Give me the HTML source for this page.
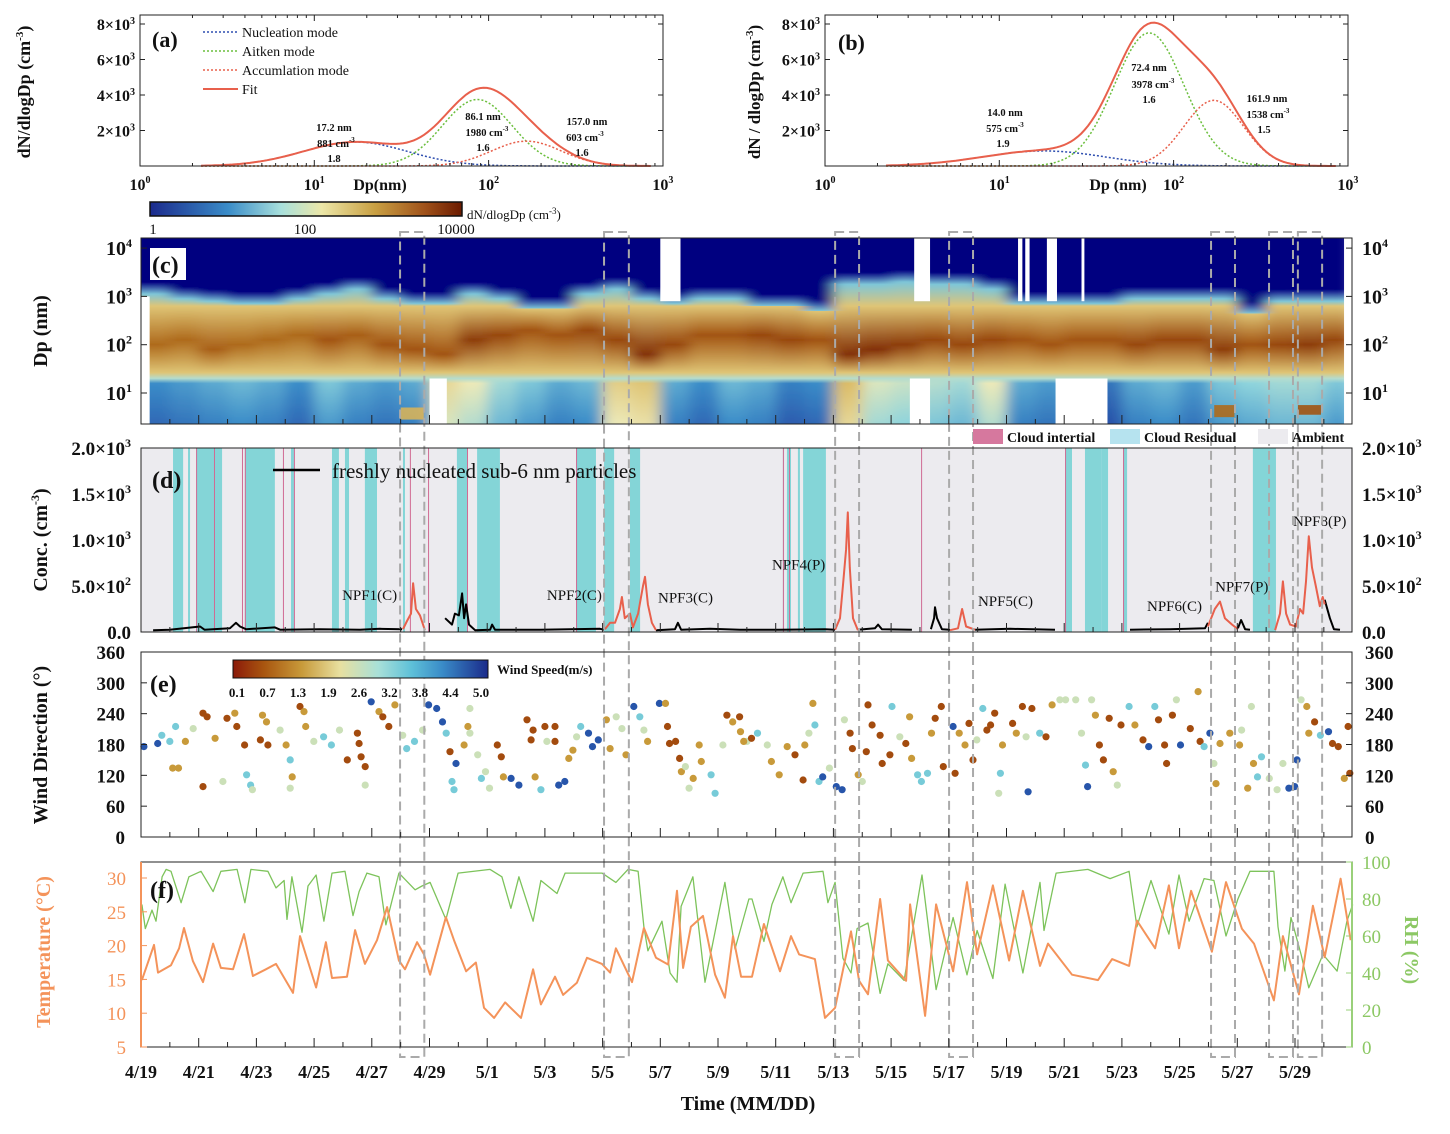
<!DOCTYPE html>
<html><head><meta charset="utf-8"><style>
body{margin:0;background:#fff}
svg text{font-family:"Liberation Serif",serif}
.b{font-weight:bold}
</style></head><body>
<svg id="s" width="1450" height="1129" viewBox="0 0 1450 1129" xmlns="http://www.w3.org/2000/svg">
<defs>
<linearGradient id="cb1" x1="0" x2="1" y1="0" y2="0">
<stop offset="0" stop-color="#1b2a8c"/><stop offset="0.25" stop-color="#3a8cc8"/><stop offset="0.42" stop-color="#a8e0dc"/><stop offset="0.55" stop-color="#ece7a8"/><stop offset="0.72" stop-color="#c9a043"/><stop offset="0.88" stop-color="#a0521a"/><stop offset="1" stop-color="#6b1a00"/>
</linearGradient>
<linearGradient id="cb2" x1="0" x2="1" y1="0" y2="0">
<stop offset="0" stop-color="#8b1a0a"/><stop offset="0.12" stop-color="#a8550f"/><stop offset="0.27" stop-color="#c89a3a"/><stop offset="0.42" stop-color="#e8e0a0"/><stop offset="0.57" stop-color="#a8e0d8"/><stop offset="0.7" stop-color="#5ec0d8"/><stop offset="0.82" stop-color="#3a8cc8"/><stop offset="1" stop-color="#1a2a8a"/>
</linearGradient>
<filter id="hblur" x="-0.02" y="0" width="1.04" height="1"><feGaussianBlur stdDeviation="7 0"/></filter>
<clipPath id="cclip"><rect x="141" y="238" width="1211" height="186"/></clipPath>
</defs>
<g clip-path="url(#cclip)"><g id="heatcols" filter="url(#hblur)"></g></g>
<g id="heat"></g>
<g id="pd"></g>
<g id="pe"></g>
<g id="pf"></g>
<g id="pab"></g>
<g id="frames"></g>
</svg>
<script>
// ---------- data ----------
const aCenters=[17.2,86.1,165];
const aPeaks=[1350,3750,1400];
const aSig=[0.3,0.2,0.2];
const bCenters=[18,72.4,170];
const bPeaks=[850,7500,3700];
const bSig=[0.35,0.2,0.17];
const cTop=[3.3,3.2,3.15,3.1,3.1,3.2,3.3,3.4,3.2,3.1,3.1,3.3,3.2,3.0,3.0,3.3,3.4,3.2,3.1,3.2,3.2,3.05,3.05,2.95,3.5,3.5,3.55,3.5,3.5,3.4,3.1,3.1,3.1,3.1,3.2,3.2,3.2,3.2,2.9,3.15,3.15,3.15];
const cCenter=[2.0,2.1,1.9,2.0,2.1,2.2,2.1,2.2,2.0,1.9,1.8,2.1,2.2,2.3,2.2,2.3,2.1,1.8,2.0,2.2,2.2,2.2,2.1,2.1,1.8,1.9,2.0,2.1,2.0,2.1,2.1,2.0,2.1,2.1,2.0,2.1,2.1,1.9,2.0,2.0,2.0,2.1];
const cPeak=[3.3,3.3,3.4,3.3,3.3,3.3,3.5,3.4,3.5,3.5,3.5,3.7,3.6,3.5,3.5,3.6,3.6,3.8,3.6,3.5,3.5,3.6,3.6,3.5,3.8,3.8,3.7,3.6,3.6,3.6,3.5,3.5,3.5,3.5,3.6,3.6,3.6,3.7,3.5,3.6,3.7,3.6];
const cLow=[1.0,1.1,1.2,1.3,1.2,1.0,1.4,1.2,1.1,1.2,2.2,2.0,1.6,1.4,1.2,1.3,2.3,2.4,1.2,1.0,1.3,1.2,0.9,1.0,2.5,1.9,1.8,1.7,1.6,2.0,1.2,1.1,1.3,0.8,1.2,1.3,1.1,1.4,1.5,1.6,1.6,1.4];
const cGaps=[[0,0.3,0.36,3.0],[10.0,10.6,0.36,1.3],[18.0,18.7,2.9,4.2],[26.8,27.35,2.9,4.2],[26.65,27.35,0.36,1.3],[30.4,30.55,2.9,4.2],[30.65,30.8,2.9,4.2],[31.4,31.75,2.9,4.2],[32.6,32.7,2.9,4.2],[31.7,33.5,0.36,1.3],[41.7,42.1,0.36,4.2]];
const cEvents=[[37.2,37.9,0.5,0.75,3.3],[40.1,40.9,0.55,0.75,3.5],[9.0,9.8,0.45,0.7,2.6]];
const boxStart=[8.98,16.05,24.06,28.01,37.09,39.1,40.1];
const boxEnd=[9.82,16.91,24.89,28.84,37.92,39.93,40.94];
const cyanStart=[1.11,1.63,1.91,3.60,5.20,6.62,7.07,7.76,9.08,10.95,11.65,15.08,16.05,16.95,22.25,22.39,22.77,22.95,32.03,32.72,33.28,34.04,38.54];
const cyanEnd=[1.46,1.70,2.81,4.64,5.30,6.86,7.21,8.18,9.15,11.33,12.44,15.77,16.40,17.30,22.29,22.53,22.84,23.74,32.27,33.28,33.52,34.18,39.34];
const pinkDays=[1.91,2.53,3.50,3.60,4.92,5.30,9.32,9.95,11.30,15.08,22.25,22.46,27.04,32.03,34.04];
const blackSegs=[
[[0.42,20],[1.0,25],[2.05,60],[2.2,25],[3.08,40],[3.29,100],[3.43,60],[3.64,30],[4.64,50],[4.82,25],[6.2,30],[7.59,25],[8.28,35],[9.05,30]],
[[10.54,150],[10.78,80],[10.88,200],[11.02,180],[11.13,420],[11.2,150],[11.27,300],[11.37,80],[11.58,20],[12.1,25],[12.17,80],[12.27,25],[13.83,25],[15.91,35],[16.05,25]],
[[17.85,20],[18.51,30],[18.61,100],[18.72,25],[19.72,35],[20.76,25],[22.15,25],[23.71,30],[24.06,25]],
[[24.85,25],[25.44,40],[25.55,80],[25.68,30],[26.72,25]],
[[27.38,30],[27.49,150],[27.52,270],[27.59,150],[27.76,30],[28.04,25]],
[[28.91,25],[30.12,35],[31.68,25]],
[[34.28,25],[35.67,30],[36.88,40],[36.98,100]],
[[38.02,40],[38.13,130],[38.27,30],[38.44,25]],
[[41.03,350],[41.21,150],[41.35,30],[41.56,25]]];
const redSegs=[
[[9.08,30],[9.22,120],[9.36,200],[9.43,530],[9.53,250],[9.67,180],[9.84,20]],
[[16.08,30],[16.26,100],[16.43,100],[16.6,250],[16.67,380],[16.77,150],[16.95,200],[17.05,50],[17.23,200],[17.4,500],[17.47,600],[17.57,300],[17.71,100],[17.85,20]],
[[24.06,25],[24.23,150],[24.33,500],[24.44,900],[24.5,1300],[24.57,700],[24.68,150],[24.85,20]],
[[28.04,20],[28.32,40],[28.46,250],[28.6,60],[28.91,25]],
[[36.98,60],[37.22,250],[37.4,330],[37.57,150],[37.82,80],[38.02,30]],
[[39.31,20],[39.48,200],[39.58,550],[39.69,200],[39.83,80],[40.03,60],[40.17,250],[40.28,200],[40.38,550],[40.48,1040],[40.59,700],[40.72,500],[40.86,280],[40.96,380],[41.03,300]]];
const npfNames=["NPF1(C)","NPF2(C)","NPF3(C)","NPF4(P)","NPF5(C)","NPF6(C)","NPF7(P)","NPF8(P)"];
const npfDay=[6.97,14.07,17.92,21.87,29.01,34.87,37.23,39.93];
const npfVal=[350,350,320,680,280,230,440,1150];
const windPts=[[0.1,176,4.5],[0.58,182,4.5],[0.72,198,3],[1.2,215,3],[1.0,186,3],[1.1,134,1.3],[1.3,134,1.3],[1.54,186,1.3],[1.81,211,2.2],[2.15,241,0.6],[2.29,234,0.6],[2.15,98,0.6],[2.57,192,1.3],[2.84,108,2.2],[2.98,231,0.6],[3.25,241,1.3],[3.32,215,0.6],[3.59,179,0.6],[3.66,121,3],[3.8,101,3],[3.86,92,2.2],[4.21,237,1.3],[4.35,224,1.3],[4.14,189,0.6],[4.4,179,0.6],[4.82,208,2.2],[5.03,179,1.3],[5.17,150,3],[5.24,117,1.3],[5.17,95,2.2],[5.51,254,0.6],[5.65,244,1.3],[5.71,215,1.3],[5.99,186,2.2],[6.33,195,3],[6.6,179,3],[6.88,208,2.2],[7.15,150,0.6],[7.5,202,0.6],[7.56,182,0.6],[7.63,156,0.6],[7.77,137,0.6],[7.77,101,2.2],[7.98,263,4.5],[8.25,244,1.3],[8.38,234,0.6],[8.59,215,0.6],[8.8,257,1.3],[9.07,198,2.2],[9.21,172,3],[9.48,186,3],[9.76,208,2.2],[9.97,257,4.5],[10.25,250,4.5],[10.45,224,4.5],[10.58,202,3],[10.71,166,0.6],[10.78,108,3],[10.85,92,3],[10.92,143,4.5],[11.2,179,1.3],[11.33,215,1.3],[11.4,250,2.2],[11.4,202,2.2],[11.67,160,2.2],[11.8,114,3],[11.94,127,2.2],[12.08,95,2.2],[12.35,179,0.6],[12.49,156,0.6],[12.56,117,1.3],[12.83,114,4.5],[13.1,101,4.5],[13.38,228,0.6],[13.59,208,0.6],[13.52,189,0.6],[13.66,117,1.3],[13.86,92,3],[14.0,215,0.6],[14.07,186,2.2],[14.35,215,0.6],[14.35,186,0.6],[14.48,101,4.5],[14.69,108,4.5],[14.83,153,1.3],[14.97,169,1.3],[15.1,195,2.2],[15.24,215,3],[15.51,202,4.5],[15.65,176,4.5],[15.85,189,4.5],[16.13,228,1.3],[16.26,172,1.3],[16.47,234,2.2],[16.67,211,2.2],[16.81,160,1.3],[17.08,254,4.5],[17.29,234,3],[17.43,208,2.2],[17.56,186,1.3],[17.97,260,4.5],[18.18,260,1.3],[18.25,215,0.6],[18.32,182,0.6],[18.53,186,0.6],[18.67,153,0.6],[18.73,127,1.3],[18.87,137,2.2],[19.0,95,2.2],[19.14,114,1.3],[19.35,179,1.3],[19.42,147,1.3],[19.76,121,3],[19.9,85,3],[20.17,179,2.2],[20.31,237,0.6],[20.51,224,1.3],[20.78,205,1.3],[21.0,186,2.2],[20.75,234,0.6],[20.89,186,1.3],[21.16,192,0.6],[21.37,202,3],[21.71,179,2.2],[21.85,147,1.3],[22.12,121,1.3],[22.4,176,1.3],[22.67,160,0.6],[22.95,111,0.6],[23.01,179,1.3],[23.15,202,2.2],[23.29,260,1.3],[23.36,218,3],[23.5,108,3],[23.63,117,4.5],[23.86,134,2.2],[24.1,98,4.5],[24.3,92,4.5],[24.38,228,2.2],[24.58,202,0.6],[24.66,172,0.6],[24.86,121,1.3],[25.0,108,2.2],[25.14,166,0.6],[25.2,257,0.6],[25.34,218,0.6],[25.62,198,0.6],[25.69,143,0.6],[26.03,254,3],[25.96,160,0.6],[26.3,195,2.2],[26.51,182,0.6],[26.64,234,1.3],[26.71,153,1.3],[26.92,121,3],[27.05,108,3],[27.26,124,3],[27.4,202,1.3],[27.53,231,0.6],[27.74,254,0.6],[27.81,137,0.6],[28.15,215,4.5],[28.22,124,0.6],[28.36,202,1.3],[28.56,179,1.3],[28.7,221,0.6],[28.84,150,0.6],[28.97,189,2.2],[29.18,250,3],[29.32,208,0.6],[29.45,218,0.6],[29.59,241,0.6],[29.73,85,2.2],[29.79,124,3],[29.86,179,1.3],[30.21,221,0.6],[30.34,202,1.3],[30.55,254,0.6],[30.68,195,2.2],[30.75,88,4.5],[30.88,250,0.6],[31.15,202,3],[31.37,195,0.6],[31.58,257,1.3],[31.85,267,2.2],[32.05,267,2.2],[32.4,267,2.2],[32.6,202,2.2],[32.74,140,3],[32.81,98,4.5],[32.95,267,2.2],[33.08,237,1.3],[33.22,179,0.6],[33.36,150,0.6],[33.56,231,0.6],[33.7,127,1.3],[33.84,101,2.2],[33.97,218,0.6],[34.25,254,3],[34.45,218,1.3],[34.73,189,0.6],[34.93,176,4.5],[35.14,254,3],[35.27,228,0.6],[35.48,179,0.6],[35.55,143,0.6],[35.75,237,0.6],[35.89,267,2.2],[36.03,179,4.5],[36.37,211,0.6],[36.64,283,1.3],[36.71,186,0.6],[36.85,176,3],[37.05,202,4.5],[37.19,143,2.2],[37.26,104,1.3],[37.4,182,1.3],[37.74,202,1.3],[38.08,179,1.3],[38.15,208,2.2],[38.36,95,1.3],[38.49,254,2.2],[38.56,143,1.3],[38.7,117,3],[38.84,156,3],[39.11,114,2.2],[39.38,92,2.2],[39.58,143,2.2],[39.79,95,4.5],[39.99,98,4.5],[40.07,150,4.5],[40.21,267,2.2],[40.41,254,1.3],[40.48,202,1.3],[40.68,224,0.6],[40.88,198,3],[41.16,205,4.5],[41.3,182,0.6],[41.5,176,0.6],[41.71,114,1.3],[41.84,215,0.6],[41.9,124,0.6]];
const wsTicks=["0.1","0.7","1.3","1.9","2.6","3.2","3.8","4.4","5.0"];
const tDays=[0.03,0.45,0.59,1.04,1.32,1.49,1.80,2.15,2.50,2.77,3.19,3.57,3.88,4.33,4.68,5.27,5.51,6.07,6.41,6.62,7.14,7.42,7.76,8.18,8.53,8.94,9.15,9.57,9.81,10.02,10.57,10.85,11.27,11.61,11.89,12.24,12.62,13.17,13.59,13.86,14.35,14.63,15.11,15.46,15.98,16.26,16.46,17.02,17.43,17.85,18.27,18.58,18.79,19.06,19.48,19.90,20.24,20.52,20.80,21.18,21.59,22.15,22.53,22.81,23.36,23.71,24.06,24.61,24.89,25.20,25.62,25.89,26.52,26.66,27.18,27.56,28.15,28.63,28.98,29.53,30.09,30.57,31.16,31.44,32.27,33.17,33.66,34.25,34.52,35.15,35.63,35.98,36.40,37.12,37.61,38.16,38.58,39.27,39.58,40.14,40.62,41.03,41.58,41.93];
const tVals=[14.9,20.1,16,17.1,19.6,22.6,17.7,14.6,20.3,16.7,16.5,21.7,15.5,16.5,17.3,13.0,21.4,13.8,20.5,15.2,15.4,22.3,17.3,20.8,25.7,17.8,16.5,20.5,18.7,15.7,24.2,20.8,16.2,17.5,10.8,9.3,11.6,9.3,16.5,11.3,15.4,12.7,14.5,18.2,17.3,16,19.6,14.6,22.6,18.2,17.2,28.1,16.7,22.8,24.4,15.7,12.3,21.4,15.4,15.4,23.2,16.2,21.4,18.7,18,9.3,10.8,22.1,14.8,12.8,26.9,17.8,14.8,26.1,9.6,26.1,16.2,29.4,18.7,28.9,17.8,28.1,17,20.3,15.7,14.9,18,17,23.7,19.6,28.9,19.6,28.1,19.1,29.4,22.5,20.3,11.9,21.4,12.8,25.9,18.3,29.9,20.8];
const rhDays=[0.03,0.15,0.38,0.52,0.73,0.87,1.04,1.39,1.66,2.08,2.50,2.77,3.33,3.60,3.81,4.40,4.68,4.96,5.06,5.23,5.58,5.79,6.07,6.34,6.62,7.07,7.35,7.56,7.83,8.25,8.49,8.94,9.50,9.74,10.02,10.57,10.99,12.10,12.51,12.82,13.10,13.59,13.86,14.42,14.70,15.98,16.46,16.88,17.23,17.43,17.57,18.06,18.34,18.58,18.72,19.13,19.55,20.24,20.59,21.07,21.18,21.59,21.87,22.25,22.53,22.95,23.64,23.81,24.06,24.33,24.61,24.82,25.20,25.62,25.89,26.45,27.07,27.56,28.15,28.63,28.98,29.53,29.95,30.57,31.16,31.30,31.72,32.82,33.59,34.25,34.52,35.01,35.63,35.98,36.33,36.85,37.19,37.61,38.02,38.44,39.27,39.41,39.65,39.86,40.21,40.48,40.97,41.46,41.80,42.0];
const rhVals=[77,64,74,68,92,96,95,78,92,95,84,95,96,78,96,95,86,90,69,92,62,87,93,68,94,95,71,84,94,92,66,94,85,87,89,69,94,96,92,75,92,68,90,83,94,94,89,96,95,65,52,68,40,35,76,92,35,89,53,80,80,57,77,92,78,94,95,78,89,48,40,64,67,29,45,36,93,31,70,39,63,37,88,40,89,63,94,96,91,95,65,90,61,93,68,91,90,60,80,95,95,65,41,70,50,32,50,41,68,77];
const dateLabels=["4/19","4/21","4/23","4/25","4/27","4/29","5/1","5/3","5/5","5/7","5/9","5/11","5/13","5/15","5/17","5/19","5/21","5/23","5/25","5/27","5/29"];

// ---------- helpers ----------
const NS="http://www.w3.org/2000/svg";
function mk(tag,attrs,parent,txt){const e=document.createElementNS(NS,tag);for(const k in attrs)e.setAttribute(k,attrs[k]);if(txt!==undefined)e.textContent=txt;parent.appendChild(e);return e;}
const X=d=>141+d*28.85;
const XL=141,XR=1352;
function hex(c){return [parseInt(c.substr(1,2),16),parseInt(c.substr(3,2),16),parseInt(c.substr(5,2),16)];}
function ramp(stops,v){if(v<=stops[0][0])return stops[0][1];for(let i=1;i<stops.length;i++){if(v<=stops[i][0]){const t=(v-stops[i-1][0])/(stops[i][0]-stops[i-1][0]);const a=hex(stops[i-1][1]),b=hex(stops[i][1]);return "rgb("+a.map((x,j)=>Math.round(x+(b[j]-x)*t)).join(",")+")";}}return stops[stops.length-1][1];}
const heatStops=[[0,"#10208a"],[0.5,"#2850a8"],[1,"#3a8cc8"],[1.5,"#8fd4dc"],[2,"#ece9b8"],[2.5,"#dcbc66"],[3,"#c08a2c"],[3.5,"#a25412"],[4,"#6e1a00"]];
const wsStops=[[0.1,"#8b1a0a"],[0.7,"#a8550f"],[1.3,"#c89a3a"],[1.9,"#e6e0a0"],[2.6,"#a8e0d8"],[3.2,"#5ec0d8"],[3.8,"#3a8cc8"],[4.4,"#2a5db0"],[5.0,"#1a2a8a"]];
const svg=document.getElementById('s');
const defs=svg.querySelector('defs');

// ---------- panel c heatmap ----------
const heatcols=document.getElementById('heatcols');
const heat=document.getElementById('heat');
const YC=l=>393-(l-1)*48.3;
const cT=238,cB=424,cH=186;
for(let i=0;i<cTop.length;i++){
  const g=mk('linearGradient',{id:'hg'+i,x1:0,x2:0,y1:0,y2:1},defs);
  const st=[[cT,'#000080'],[YC(cTop[i]),'#000080'],[YC(cTop[i]-0.25),ramp(heatStops,1.4)],[YC(2.8),ramp(heatStops,2.4)],[YC(cCenter[i]),ramp(heatStops,cPeak[i])],[YC(1.42),ramp(heatStops,2.4)],[YC(1.3),ramp(heatStops,1.7)],[YC(1.2),ramp(heatStops,cLow[i])],[cB,ramp(heatStops,cLow[i]-0.3)]];
  let last=0;
  st.forEach(s=>{let o=Math.max(last,Math.min(1,(s[0]-cT)/cH));last=o;mk('stop',{offset:o.toFixed(4),'stop-color':s[1]},g);});
  const x0=i==0?X(-0.5):X(i);
  const r=mk('rect',{x:x0.toFixed(2),y:cT,width:(X(i+1)-x0+0.6).toFixed(2),height:cH,fill:'url(#hg'+i+')'},heatcols);
  
  
}
cEvents.forEach(e=>{const r=mk('rect',{x:X(e[0]),y:YC(e[3]),width:X(e[1])-X(e[0]),height:YC(e[2])-YC(e[3]),fill:ramp(heatStops,e[4]),opacity:0.9},heat);
  
  });
cGaps.forEach(e=>{const r=mk('rect',{x:X(e[0]),y:Math.max(cT,YC(e[3])),width:X(e[1])-X(e[0]),height:Math.min(cB,YC(e[2]))-Math.max(cT,YC(e[3])),fill:'#fff'},heat);
  
  });

// ---------- panel d ----------
const pd=document.getElementById('pd');
const dT=448,dB=632;
const YD=v=>dB-v/2000*(dB-dT);
mk('rect',{x:XL,y:dT,width:XR-XL,height:dB-dT,fill:'#ecebef'},pd);
cyanStart.forEach((s,i)=>{const r=mk('rect',{x:X(s),y:dT,width:Math.max(1,X(cyanEnd[i])-X(s)),height:dB-dT,fill:'#84d5d7'},pd);
  
  });
pinkDays.forEach(d=>{const r=mk('rect',{x:X(d),y:dT,width:1,height:dB-dT,fill:'#d06b94'},pd);
  
  });
function seg(arr,col,w,name,parent,yf){const p=mk('polyline',{points:arr.map(a=>X(a[0]).toFixed(1)+','+yf(a[1]).toFixed(1)).join(' '),fill:'none',stroke:col,'stroke-width':w,'stroke-linejoin':'round'},parent);
  
  }
blackSegs.forEach(s=>seg(s,'#000',2,'sub6nm-line',pd,YD));
redSegs.forEach(s=>seg(s,'#e8604c',2,'npf-event-line',pd,YD));
npfNames.forEach((n,i)=>{const t=mk('text',{x:X(npfDay[i]),y:YD(npfVal[i]),'font-size':15,fill:'#111'},pd,n);
  
  });

// ---------- panel e ----------
const pe=document.getElementById('pe');
const eT=652,eB=837;
const YE=v=>eB-v/360*(eB-eT);
windPts.forEach(p=>{const c=mk('circle',{cx:X(p[0]).toFixed(1),cy:YE(p[1]).toFixed(1),r:3.6,fill:ramp(wsStops,p[2])},pe);
  
  });

// ---------- panel f ----------
const pf=document.getElementById('pf');
const fT=862,fB=1047;
const YT=v=>fB-(v-5)/25*(fB-878);
const YR=v=>fB-v/100*(fB-fT);
seg(rhDays.map((d,i)=>[d,rhVals[i]]),'#7dc35b',1.3,'rh-line',pf,YR);
seg(tDays.map((d,i)=>[d,tVals[i]]),'#f4935a',2,'temperature-line',pf,YT);

// ---------- panels a/b ----------
const pab=document.getElementById('pab');
function curves(x0,cs,pk,sg){
  const Xa=l=>x0+l*174.3, Ya=v=>166-v/2000*35.5;
  const cols=['#2f4fb0','#6cbf3e','#e8604c'];
  const names=['nucleation-mode-curve','aitken-mode-curve','accumulation-mode-curve'];
  const fit=[];
  for(let m=0;m<3;m++){const pts=[];for(let l=0.35;l<=2.95;l+=0.02){const v=pk[m]*Math.exp(-0.5*Math.pow((l-Math.log10(cs[m]))/sg[m],2));pts.push(Xa(l).toFixed(1)+','+Ya(v).toFixed(1));fit[Math.round((l-0.35)/0.02)]=(fit[Math.round((l-0.35)/0.02)]||0)+v;}
    const p=mk('polyline',{points:pts.join(' '),fill:'none',stroke:cols[m],'stroke-width':1.5,'stroke-dasharray':'2,2'},pab);
    
    }
  const fp=fit.map((v,i)=>Xa(0.35+i*0.02).toFixed(1)+','+Ya(v).toFixed(1));
  const p=mk('polyline',{points:fp.join(' '),fill:'none',stroke:'#e8604c','stroke-width':2},pab);
  
  
}
curves(140,aCenters,aPeaks,aSig);
curves(825,bCenters,bPeaks,bSig);

// ---------- frames, ticks, labels ----------
const fr=document.getElementById('frames');
function T(x,y,s,opt){opt=opt||{};const t=mk('text',Object.assign({x:x,y:y,'font-size':opt.fs||16,'text-anchor':opt.a||'start',fill:opt.c||'#111','font-weight':opt.w||'bold'},opt.tr?{transform:opt.tr}:{}),fr);t.innerHTML=s;return t;}
function box(x,y,w,h,n,col){const r=mk('rect',{x:x,y:y,width:w,height:h,fill:'none',stroke:col||'#222','stroke-width':1},fr);}
boxStart.forEach((s,i)=>{const r=mk('rect',{x:X(s),y:232,width:X(boxEnd[i])-X(s),height:825,fill:'none',stroke:'#aaa','stroke-width':2,'stroke-dasharray':'9,5'},fr);
  
  });
box(140,15,523,151,'panel-a-frame');box(825,15,523,151,'panel-b-frame');
box(XL,cT,XR-XL,cH,'panel-c-frame');box(XL,dT,XR-XL,dB-dT,'panel-d-frame');box(XL,eT,XR-XL,eB-eT,'panel-e-frame');box(XL,fT,XR-XL,fB-fT,'panel-f-frame');
[[cB],[dB],[eB],[fB]].forEach(a=>{for(let d=0;d<=41;d++){mk('line',{x1:X(d),x2:X(d),y1:a[0],y2:a[0]-(d%2?5:9),stroke:'#222'},fr);}});
dateLabels.forEach((s,i)=>T(X(i*2),1078,s,{a:'middle',fs:18,n:'date-tick-label'}));
T(748,1110,'Time (MM/DD)',{a:'middle',fs:20,n:'x-axis-title'});
function abAxes(x0,xl,lab){
  ['8×10<tspan font-size="10" dy="-6">3</tspan>','6×10<tspan font-size="10" dy="-6">3</tspan>','4×10<tspan font-size="10" dy="-6">3</tspan>','2×10<tspan font-size="10" dy="-6">3</tspan>'].forEach((s,i)=>{const y=24+i*35.5;T(x0-5,y+6,s,{a:'end',fs:16,n:'y-tick-label'});mk('line',{x1:x0,x2:x0+5,y1:y,y2:y,stroke:'#222'},fr);mk('line',{x1:x0+523,x2:x0+518,y1:y,y2:y,stroke:'#222'},fr);});
  for(let k=0;k<=3;k++){T(x0+k*174.3,190,'10<tspan font-size="10" dy="-7">'+k+'</tspan>',{a:'middle',fs:16,n:'x-tick-label'});
    for(let m=1;m<10&&k<3;m++){const xx=x0+(k+Math.log10(m))*174.3;mk('line',{x1:xx,x2:xx,y1:166,y2:166-(m==1?6:3),stroke:'#222'},fr);mk('line',{x1:xx,x2:xx,y1:15,y2:15+(m==1?6:3),stroke:'#222'},fr);}}
  T(xl,190,lab,{a:'middle',fs:16,n:'x-axis-title'});
}
abAxes(140,380,'Dp(nm)');abAxes(825,1118,'Dp (nm)');
T(30,92,'dN/dlogDp (cm<tspan font-size="11" dy="-7">-3</tspan><tspan dy="7">)</tspan>',{a:'middle',fs:18,tr:'rotate(-90 30 92)',n:'panel-a-y-title'});
T(760,92,'dN / dlogDp (cm<tspan font-size="11" dy="-7">-3</tspan><tspan dy="7">)</tspan>',{a:'middle',fs:17,tr:'rotate(-90 760 92)',n:'panel-b-y-title'});
T(152,47,'(a)',{fs:22,n:'panel-a-letter'});T(838,50,'(b)',{fs:22,n:'panel-b-letter'});
[['#2f4fb0','2,2','Nucleation mode'],['#6cbf3e','2,2','Aitken mode'],['#e8604c','2,2','Accumlation mode'],['#e8604c','','Fit']].forEach((l,i)=>{const y=32+i*19;const ln=mk('line',{x1:203,x2:238,y1:y,y2:y,stroke:l[0],'stroke-width':l[1]?1.5:2,'stroke-dasharray':l[1]||'none'},fr);T(242,y+5,l[2],{fs:14,w:'normal',n:'legend-entry'});});
const sup='<tspan font-size="7" dy="-5">-3</tspan>';
[[334,131,'17.2 nm'],[336,147,'881 cm'+sup],[334,162,'1.8'],[483,120,'86.1 nm'],[487,136,'1980 cm'+sup],[483,151,'1.6'],[587,125,'157.0 nm'],[585,141,'603 cm'+sup],[582,156,'1.6'],
 [1005,116,'14.0 nm'],[1005,132,'575 cm'+sup],[1003,147,'1.9'],[1149,71,'72.4 nm'],[1153,88,'3978 cm'+sup],[1149,103,'1.6'],[1267,102,'161.9 nm'],[1268,118,'1538 cm'+sup],[1264,133,'1.5']].forEach(a=>T(a[0],a[1],a[2],{a:'middle',fs:10.5,n:'mode-annotation'}));
const cbr=mk('rect',{x:150,y:202,width:312,height:14,fill:'url(#cb1)',stroke:'#111','stroke-width':1.5},fr);
T(153,234,'1',{a:'middle',fs:15,w:'normal',n:'colorbar-tick'});T(305,234,'100',{a:'middle',fs:15,w:'normal',n:'colorbar-tick'});T(456,234,'10000',{a:'middle',fs:15,w:'normal',n:'colorbar-tick'});
T(467,219,'dN/dlogDp (cm<tspan font-size="9" dy="-5">-3</tspan><tspan dy="5">)</tspan>',{fs:13,w:'normal',n:'colorbar-title'});
['10<tspan font-size="12" dy="-8">4</tspan>','10<tspan font-size="12" dy="-8">3</tspan>','10<tspan font-size="12" dy="-8">2</tspan>','10<tspan font-size="12" dy="-8">1</tspan>'].forEach((s,i)=>{const y=YC(4-i);T(132,y+7,s,{a:'end',fs:20,n:'y-tick-label'});T(1362,y+7,s,{fs:20,n:'y-tick-label-right'});mk('line',{x1:XL,x2:XL+6,y1:y,y2:y,stroke:'#222'},fr);mk('line',{x1:XR,x2:XR-6,y1:y,y2:y,stroke:'#222'},fr);});
T(47,331,'Dp (nm)',{a:'middle',fs:20,tr:'rotate(-90 47 331)',n:'panel-c-y-title'});
mk('rect',{x:150,y:248,width:36,height:32,fill:'#fff'},fr);
T(152,273,'(c)',{fs:24,n:'panel-c-letter'});
['2.0×10<tspan font-size="12" dy="-8">3</tspan>','1.5×10<tspan font-size="12" dy="-8">3</tspan>','1.0×10<tspan font-size="12" dy="-8">3</tspan>','5.0×10<tspan font-size="12" dy="-8">2</tspan>','0.0'].forEach((s,i)=>{const y=YD(2000-i*500);T(131,y+7,s,{a:'end',fs:19,n:'y-tick-label'});T(1362,y+7,s,{fs:19,n:'y-tick-label-right'});});
T(47,540,'Conc. (cm<tspan font-size="12" dy="-8">-3</tspan><tspan dy="8">)</tspan>',{a:'middle',fs:20,tr:'rotate(-90 47 540)',n:'panel-d-y-title'});
T(152,488,'(d)',{fs:24,n:'panel-d-letter'});
const ll=mk('line',{x1:273,x2:320,y1:470,y2:470,stroke:'#000','stroke-width':2.5},fr);
T(332,478,'freshly nucleated sub-6 nm particles',{fs:21,w:'normal',n:'legend-entry'});
[[973,'#d6789e','Cloud intertial'],[1110,'#b6e3ef','Cloud Residual'],[1258,'#ecebef','Ambient']].forEach(l=>{const r=mk('rect',{x:l[0],y:429,width:30,height:15,fill:l[1]},fr);T(l[0]+34,442,l[2],{fs:14,n:'legend-entry'});});
[360,300,240,180,120,60,0].forEach(v=>{const y=YE(v);T(125,y+7,v,{a:'end',fs:19,n:'y-tick-label'});T(1365,y+7,v,{fs:19,n:'y-tick-label-right'});mk('line',{x1:XL,x2:XL+6,y1:y,y2:y,stroke:'#222'},fr);mk('line',{x1:XR,x2:XR-6,y1:y,y2:y,stroke:'#222'},fr);});
T(47,745,'Wind Direction (°)',{a:'middle',fs:20,tr:'rotate(-90 47 745)',n:'panel-e-y-title'});
T(150,692,'(e)',{fs:24,n:'panel-e-letter'});
const wcb=mk('rect',{x:233,y:660,width:255,height:18,fill:'url(#cb2)',stroke:'#111','stroke-width':1},fr);
wsTicks.forEach((s,i)=>T(237+i*30.5,697,s,{a:'middle',fs:13,n:'colorbar-tick'}));
T(497,674,'Wind Speed(m/s)',{fs:13,n:'colorbar-title'});
mk('line',{x1:XL,x2:XL,y1:fT,y2:fB,stroke:'#f4935a','stroke-width':2},fr);
mk('line',{x1:XR,x2:XR,y1:fT,y2:fB,stroke:'#9ad07a','stroke-width':2},fr);
[30,25,20,15,10,5].forEach(v=>{const y=YT(v);T(126,y+7,v,{a:'end',fs:19,c:'#f4935a',w:'normal',n:'temperature-tick-label'});mk('line',{x1:XL,x2:XL+6,y1:y,y2:y,stroke:'#f4935a'},fr);});
[100,80,60,40,20,0].forEach(v=>{const y=YR(v);T(1362,y+7,v,{fs:19,c:'#8cc864',w:'normal',n:'rh-tick-label'});mk('line',{x1:XR,x2:XR-6,y1:y,y2:y,stroke:'#9ad07a'},fr);});
T(50,952,'Temperature (°C)',{a:'middle',fs:20,c:'#f4935a',tr:'rotate(-90 50 952)',n:'temperature-axis-title'});
T(1405,950,'RH (%)',{a:'middle',fs:20,c:'#8cc864',tr:'rotate(90 1405 950)',n:'rh-axis-title'});
T(150,898,'(f)',{fs:24,n:'panel-f-letter'});
</script>
</body></html>
